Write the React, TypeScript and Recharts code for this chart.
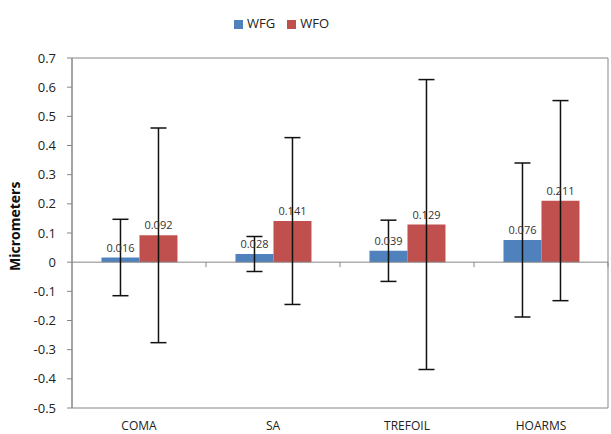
import React from 'react';
import { BarChart, Bar, XAxis, YAxis, ErrorBar, LabelList, ReferenceLine, ReferenceArea, Legend } from 'recharts';

const categories = ['COMA', 'SA', 'TREFOIL', 'HOARMS'];
const wfgValues = [0.016, 0.028, 0.039, 0.076];
const wfoValues = [0.092, 0.141, 0.129, 0.211];
const wfgErrors = [0.131, 0.06, 0.105, 0.264];
const wfoErrors = [0.368, 0.286, 0.497, 0.343];
const yTicks = [-0.5, -0.4, -0.3, -0.2, -0.1, 0, 0.1, 0.2, 0.3, 0.4, 0.5, 0.6, 0.7];

const data = categories.map((c, i) => ({
  name: c,
  WFG: wfgValues[i],
  WFO: wfoValues[i],
  wfgErr: wfgErrors[i],
  wfoErr: wfoErrors[i],
}));

const FONT = '"Open Sans", "Liberation Sans", sans-serif';

const ZeroLine = (props: any) => {
  const { x1, y1, x2, y2 } = props;
  const w = x2 - x1;
  const ticks = [1, 2, 3, 4].map((i) => x1 + (w * i) / 4);
  return (
    <g>
      <line x1={x1} y1={y1} x2={x2} y2={y2} stroke="#868686" strokeWidth={1} />
      {ticks.map((tx, i) => (
        <line key={i} x1={tx} y1={y1} x2={tx} y2={y1 + 5} stroke="#868686" strokeWidth={1} />
      ))}
    </g>
  );
};

const fmtTick = (v: number) => (v === 0 ? '0' : String(Math.round(v * 10) / 10));

export default function App() {
  return (
    <div style={{ position: 'absolute', left: 0, top: 0, width: 611, height: 434, background: '#fff' }}>
      <BarChart
        width={611}
        height={434}
        data={data}
        margin={{ top: 40, right: 3, left: 0, bottom: 0 }}
        barCategoryGap="22%"
        barGap={0}
      >
        <Legend
          verticalAlign="top"
          align="center"
          iconType="square"
          iconSize={9}
          wrapperStyle={{ top: 14, left: -18, width: 611, fontFamily: FONT, fontSize: 13 }}
          formatter={(v: string) => <span style={{ color: '#222', marginRight: 2 }}>{v}</span>}
        />
        <XAxis
          dataKey="name"
          axisLine={false}
          tickLine={false}
          height={26}
          tick={{ fontFamily: FONT, fontSize: 12, fill: '#222' }}
          tickMargin={7}
        />
        <YAxis
          width={72}
          domain={[-0.5, 0.7]}
          ticks={yTicks}
          interval={0}
          allowDataOverflow
          tickFormatter={fmtTick}
          axisLine={{ stroke: '#868686' }}
          tickLine={{ stroke: '#868686' }}
          tickSize={5}
          tickMargin={11}
          tick={{ fontFamily: FONT, fontSize: 13, fill: '#222' }}
          label={{
            value: 'Micrometers',
            angle: -90,
            position: 'insideLeft',
            dx: 10,
            dy: 38,
            style: { fontFamily: FONT, fontSize: 14, fontWeight: 700, fill: '#111' },
          }}
        />
        <ReferenceArea y1={-0.5} y2={0.7} fill="none" stroke="#868686" strokeWidth={1} ifOverflow="visible" />
        <ReferenceLine y={0} shape={ZeroLine} />
        <Bar dataKey="WFG" fill="#4F81BD" isAnimationActive={false}>
          <ErrorBar dataKey="wfgErr" width={8} stroke="#111" strokeWidth={1.5} direction="y" />
          <LabelList dataKey="WFG" position="top" offset={6} style={{ fontFamily: FONT, fontSize: 11, fill: '#333' }} />
        </Bar>
        <Bar dataKey="WFO" fill="#C0504D" isAnimationActive={false}>
          <ErrorBar dataKey="wfoErr" width={8} stroke="#111" strokeWidth={1.5} direction="y" />
          <LabelList dataKey="WFO" position="top" offset={6} style={{ fontFamily: FONT, fontSize: 11, fill: '#333' }} />
        </Bar>
      </BarChart>
    </div>
  );
}
